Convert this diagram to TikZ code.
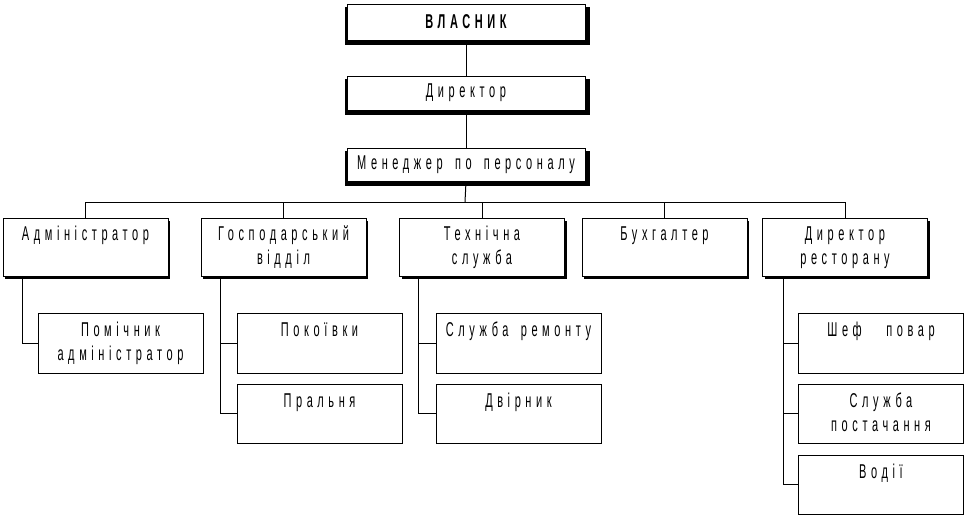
\documentclass[tikz,border=0pt]{standalone}
\usepackage{fontspec}
\setmainfont[FakeStretch=0.55,LetterSpace=23,WordSpace=1.6]{Liberation Sans}
\usetikzlibrary{backgrounds,shadows}
\tikzset{
  topbox/.style={draw, fill=white, line width=1pt, minimum width=238pt, inner sep=0pt, font=\fontsize{20}{24}\selectfont},
  midbox/.style={draw, fill=white, line width=1pt, minimum width=165pt, minimum height=58pt, inner sep=0pt,
    drop shadow={shadow xshift=2pt,shadow yshift=-3pt,opacity=1,fill=black}},
  subbox/.style={draw, fill=white, line width=1pt, minimum width=165pt, inner sep=0pt},
  lbl/.style={anchor=base, align=center, inner sep=0pt, font=\fontsize{20}{24}\selectfont},
  link/.style={line width=1pt}
}
\begin{document}
\begin{tikzpicture}[x=1pt,y=-1pt]
\useasboundingbox (0,0) rectangle (967,517);
% top chain
\node[topbox, minimum height=36pt] (v) at (466,22) {\bfseries ВЛАСНИК};
\node[topbox, minimum height=34pt] (d) at (466,93) {Директор};
\node[topbox, minimum height=33pt] (m) at (466,164.5) {Менеджер по персоналу};
\begin{scope}[on background layer]
  \foreach \n in {v,d,m}
    \fill ([xshift=-2pt,yshift=-3pt]\n.north west) rectangle ([xshift=4pt,yshift=-4pt]\n.south east);
\end{scope}
\draw[link] (v.south) -- (d.north);
\draw[link] (d.south) -- (m.north);
% level 2
\node[midbox] (a) at (85.5,247) {};
\node[midbox] (g) at (283.5,247) {};
\node[midbox] (t) at (482,247) {};
\node[midbox] (b) at (664.5,247) {};
\node[midbox] (r) at (845,247) {};
\node[lbl] (at) at ([yshift=-23pt]a.north) {Адміністратор};
\node[lbl] (gt) at ([yshift=-47pt]g.north) {Господарський\\відділ};
\node[lbl] (tt) at ([yshift=-47pt]t.north) {Технічна\\служба};
\node[lbl] (bt) at ([yshift=-23pt]b.north) {Бухгалтер};
\node[lbl] (rt) at ([yshift=-47pt]r.north) {Директор\\ресторану};
\coordinate (bus) at (465,202);
\draw[link] (m.south) -- (bus);
\foreach \n in {a,g,t,b,r}
  \draw[link] (bus) -| (\n.north);
% level 3
\node[subbox, minimum height=60pt] (a1) at (120.5,343) {};
\node[subbox, minimum height=60pt] (g1) at (319.5,343) {};
\node[subbox, minimum height=59pt] (g2) at (319.5,413.5) {};
\node[subbox, minimum height=60pt] (t1) at (518.5,343) {};
\node[subbox, minimum height=59pt] (t2) at (518.5,413.5) {};
\node[subbox, minimum height=60pt] (r1) at (881,343) {};
\node[subbox, minimum height=59pt] (r2) at (881,413.5) {};
\node[subbox, minimum height=59pt] (r3) at (881,484.5) {};
\node[lbl] (a1t) at ([yshift=-48pt]a1.north) {Помічник\\адміністратор};
\node[lbl] (g1t) at ([yshift=-24pt]g1.north) {Покоївки};
\node[lbl] (g2t) at ([yshift=-24pt]g2.north) {Пральня};
\node[lbl] (t1t) at ([yshift=-24pt]t1.north) {Служба ремонту};
\node[lbl] (t2t) at ([yshift=-24pt]t2.north) {Двірник};
\node[lbl] (r1t) at ([yshift=-24pt]r1.north) {Шеф\ \ повар};
\node[lbl] (r2t) at ([yshift=-48pt]r2.north) {Служба\\постачання};
\node[lbl] (r3t) at ([yshift=-24pt]r3.north) {Водії};
\draw[link] ([xshift=20pt]a.south west) |- (a1.west);
\draw[link] ([xshift=20pt]g.south west) |- (g1.west);
\draw[link] ([xshift=20pt]g.south west) |- (g2.west);
\draw[link] ([xshift=19pt]t.south west) |- (t1.west);
\draw[link] ([xshift=19pt]t.south west) |- (t2.west);
\draw[link] ([xshift=21pt]r.south west) |- (r1.west);
\draw[link] ([xshift=21pt]r.south west) |- (r2.west);
\draw[link] ([xshift=21pt]r.south west) |- (r3.west);
\end{tikzpicture}
\end{document}
